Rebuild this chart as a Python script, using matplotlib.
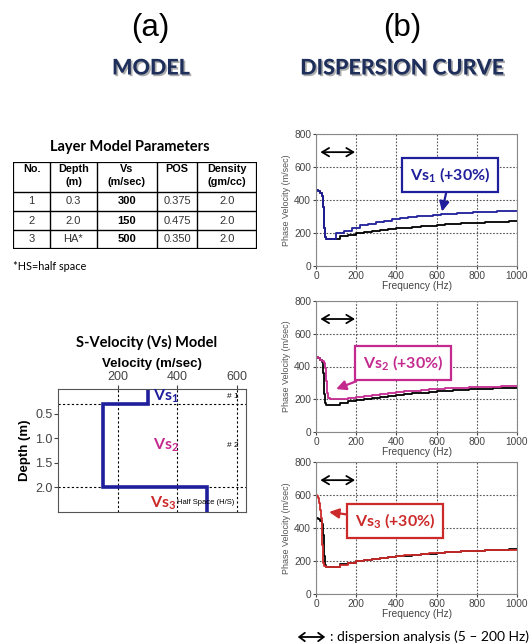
"""
Layer model (a) and dispersion curves (b) for a 3-layer Vs model
"""

import matplotlib.pyplot as plt
import matplotlib.patheffects as pe
from matplotlib.patches import FancyArrowPatch

# ── Fonts ──────────────────────────────────────────────────────────────────────
plt.rcParams['font.family'] = ['Liberation Sans', 'DejaVu Sans']
plt.rcParams['mathtext.fontset'] = 'custom'
plt.rcParams['mathtext.rm'] = 'Lato'
plt.rcParams['mathtext.bf'] = 'Lato:bold'
plt.rcParams['mathtext.it'] = 'Lato:italic'
CAL = ['Lato', 'DejaVu Sans']

# ── Data: layer model table ────────────────────────────────────────────────────
table_header = ["No.", "Depth\n(m)", "Vs\n(m/sec)", "POS", "Density\n(gm/cc)"]
layer_no = ["1", "2", "3"]
layer_depth = ["0.3", "2.0", "HA*"]
layer_vs = [300, 150, 500]
layer_pos = ["0.375", "0.475", "0.350"]
layer_density = ["2.0", "2.0", "2.0"]

# Vs profile: layer top/bottom depths (m)
layer_top = [0.0, 0.3, 2.0]
layer_bottom = [0.3, 2.0, 2.5]

# ── Data: dispersion curves (Hz, m/sec) ────────────────────────────────────────
base_freq = [0, 10, 20, 30, 35, 40, 45, 50, 110, 120, 160, 200, 240, 280, 320, 360,
             400, 440, 480, 520, 560, 600, 640, 680, 720, 760, 800, 840, 880, 920,
             960, 1000]
base_vel = [460, 452, 440, 425, 360, 230, 175, 165, 165, 180, 188, 197, 204, 210, 216,
            222, 228, 233, 237, 241, 245, 249, 252, 255, 258, 260, 262, 264, 266, 268,
            270, 270]

vs1_freq = [0, 10, 20, 30, 35, 40, 45, 50, 100, 140, 180, 220, 260, 300, 340, 380,
            420, 460, 500, 540, 580, 620, 660, 700, 740, 780, 820, 860, 900, 940,
            980, 1000]
vs1_vel = [460, 452, 440, 425, 360, 230, 175, 165, 197, 215, 233, 246, 257, 266, 275,
           283, 289, 295, 300, 305, 310, 314, 317, 320, 323, 325, 327, 329, 331, 332,
           333, 333]

vs2_freq = [0, 10, 20, 30, 40, 45, 50, 55, 60, 70, 120, 160, 200, 240, 280, 320, 360,
            400, 440, 480, 520, 560, 600, 640, 680, 720, 760, 800, 840, 880, 920,
            960, 1000]
vs2_vel = [460, 452, 442, 432, 420, 390, 310, 240, 210, 203, 203, 208, 214, 221, 228,
           234, 240, 245, 249, 253, 257, 260, 263, 266, 268, 270, 272, 274, 276, 277,
           279, 280, 281]

vs3_freq = [0, 5, 10, 15, 20, 25, 28, 32, 36, 40, 50, 115, 120, 160, 200, 240, 280,
            320, 360, 400, 440, 480, 520, 560, 600, 640, 680, 720, 760, 800, 840,
            880, 920, 960, 1000]
vs3_vel = [600, 595, 580, 550, 510, 460, 410, 300, 190, 168, 163, 163, 178, 188, 200,
           207, 213, 219, 224, 229, 234, 238, 242, 246, 249, 252, 255, 258, 260, 262,
           264, 266, 267, 268, 268]

# ── Colours ────────────────────────────────────────────────────────────────────
NAVY = "#1f1f9c"
MAGENTA = "#c42a8e"
RED = "#cc2a2a"
TITLE = "#1f2f5c"
GRAYTXT = "#444444"

W, H = 530, 643
fig = plt.figure(figsize=(W / 100, H / 100), dpi=100, facecolor="white")


def px_axes(l, t, r, b):
    return fig.add_axes([l / W, 1 - b / H, (r - l) / W, (b - t) / H])


def fx(x):
    return x / W


def fy(y):
    return 1 - y / H


# ── Headings ───────────────────────────────────────────────────────────────────
fig.text(fx(150), fy(28), "(a)", fontsize=22.5, ha="center", va="center")
fig.text(fx(402), fy(28), "(b)", fontsize=22.5, ha="center", va="center")
shadow = [pe.SimplePatchShadow(offset=(1.2, -1.2), shadow_rgbFace="#777777", alpha=0.6),
          pe.Normal()]
fig.text(fx(151), fy(68), "MODEL", fontsize=15.5, fontweight="black", family=CAL,
         color=TITLE, ha="center", va="center", path_effects=shadow)
fig.text(fx(402), fy(68), "DISPERSION CURVE", fontsize=15.5, fontweight="black",
         family=CAL, color=TITLE, ha="center", va="center", path_effects=shadow)

# ── Table ──────────────────────────────────────────────────────────────────────
fig.text(fx(130), fy(147), "Layer Model Parameters", fontsize=10.5, fontweight="bold",
         family=CAL, ha="center", va="center")

ax_tab = px_axes(13, 162, 257, 249)
ax_tab.set_xlim(0, 1)
ax_tab.set_ylim(1, 0)
ax_tab.axis("off")
col_w = [37, 47, 60, 40, 60]
row_h = [30, 19, 19, 19]
col_edges = [sum(col_w[:i]) / sum(col_w) for i in range(len(col_w) + 1)]
row_edges = [sum(row_h[:i]) / sum(row_h) for i in range(len(row_h) + 1)]
for xe in col_edges[1:-1]:
    ax_tab.plot([xe, xe], [0, 1], color="black", lw=1.0)
for ye in row_edges[1:-1]:
    ax_tab.plot([0, 1], [ye, ye], color="black", lw=1.0)
ax_tab.add_patch(plt.Rectangle((0, 0), 1, 1, fill=False, lw=1.6, ec="black"))

for j, lab in enumerate(table_header):
    cx = (col_edges[j] + col_edges[j + 1]) / 2
    ax_tab.text(cx, row_edges[0] + 0.025, lab, ha="center", va="top", fontsize=7.8,
                fontweight="bold", linespacing=1.3)

rows = list(zip(layer_no, layer_depth, [str(v) for v in layer_vs], layer_pos,
                layer_density))
for i, row in enumerate(rows):
    cy = (row_edges[i + 1] + row_edges[i + 2]) / 2
    for j, val in enumerate(row):
        cx = (col_edges[j] + col_edges[j + 1]) / 2
        ax_tab.text(cx, cy, val, ha="center", va="center", fontsize=8,
                    color="black" if j == 2 else "#333333",
                    fontweight="bold" if j == 2 else "normal")

fig.text(fx(13), fy(267), "*HS=half space", fontsize=7.8, family=CAL, va="center")

# ── Vs model ───────────────────────────────────────────────────────────────────
fig.text(fx(147), fy(342), "S-Velocity (Vs) Model", fontsize=10.5, fontweight="bold",
         family=CAL, ha="center", va="center")

ax_vs = px_axes(58, 389, 246, 512)
prof_x, prof_y = [], []
for v, t, b in zip(layer_vs, layer_top, layer_bottom):
    prof_x += [v, v]
    prof_y += [t, b]
ax_vs.plot(prof_x, prof_y, color=NAVY, lw=2.6, solid_joinstyle="miter")
ax_vs.set_xlim(0, 630)
ax_vs.set_ylim(2.5, 0)
ax_vs.set_xticks([200, 400, 600])
ax_vs.set_yticks([0.5, 1.0, 1.5, 2.0])
ax_vs.xaxis.tick_top()
ax_vs.xaxis.set_label_position("top")
ax_vs.tick_params(colors=GRAYTXT, labelsize=9, length=3, pad=1)
ax_vs.set_xlabel("Velocity (m/sec)", fontsize=9.5, fontweight="bold", labelpad=3)
ax_vs.set_ylabel("Depth (m)", fontsize=9.5, fontweight="bold", labelpad=3)
for s in ax_vs.spines.values():
    s.set_color("#555555")
for xv in [200, 400, 600]:
    ax_vs.axvline(xv, color="black", lw=0.8, ls=(0, (2, 2)), zorder=0)
for yv in layer_bottom[:2]:
    ax_vs.axhline(yv, color="black", lw=0.8, ls=(0, (2, 2)), zorder=0)

ax_vs.text(318, 0.15, r"Vs$_\mathbf{1}$", color=NAVY, fontsize=11.5, fontweight="bold",
           family=CAL, va="center")
ax_vs.text(318, 1.15, r"Vs$_\mathbf{2}$", color=MAGENTA, fontsize=11.5,
           fontweight="bold", family=CAL, va="center")
ax_vs.text(308, 2.32, r"Vs$_\mathbf{3}$", color=RED, fontsize=11.5, fontweight="bold",
           family=CAL, va="center")
ax_vs.text(565, 0.15, "# 1", fontsize=6, va="center")
ax_vs.text(565, 1.15, "# 2", fontsize=6, va="center")
ax_vs.text(400, 2.3, "Half Space (H/S)", fontsize=5.5, va="center")

# ── Dispersion curves ──────────────────────────────────────────────────────────
panels = [
    (134, 266, vs1_freq, vs1_vel, NAVY, r"Vs$_\mathbf{1}$ (+30%)", (667, 552), (627, 330)),
    (301, 432, vs2_freq, vs2_vel, MAGENTA, r"Vs$_\mathbf{2}$ (+30%)", (433, 421), (100, 262)),
    (462, 594, vs3_freq, vs3_vel, RED, r"Vs$_\mathbf{3}$ (+30%)", (393, 442), (65, 497)),
]
for top, bot, fr, ve, col, lab, box_xy, tip_xy in panels:
    ax = px_axes(316, top, 517, bot)
    ax.plot(base_freq, base_vel, color="black", lw=1.3, drawstyle="steps-post")
    ax.plot(fr, ve, color=col, lw=1.3, drawstyle="steps-post")
    ax.set_xlim(0, 1000)
    ax.set_ylim(0, 800)
    ax.set_xticks(range(0, 1001, 200))
    ax.set_yticks(range(0, 801, 200))
    ax.grid(True, color="#555555", lw=0.8, ls=(0, (1.5, 1.5)))
    ax.tick_params(colors=GRAYTXT, labelsize=7.3, length=2.5, pad=1)
    for s in ax.spines.values():
        s.set_color("#888888")
    ax.set_xlabel("Frequency (Hz)", fontsize=7.3, color=GRAYTXT, labelpad=0)
    ax.set_ylabel("Phase Velocity (m/sec)", fontsize=6.5, color="#555555", labelpad=2)
    ax.annotate("", xy=(8, 690), xytext=(208, 690),
                arrowprops=dict(arrowstyle="<->,head_length=0.5,head_width=0.3",
                                color="black", lw=1.3))
    ax.annotate(lab, xy=tip_xy, xytext=box_xy, ha="center", va="center",
                fontsize=11.5, fontweight="bold", family=CAL, color=col,
                bbox=dict(boxstyle="square,pad=0.5", fc="white", ec=col, lw=1.6),
                arrowprops=dict(arrowstyle="-|>,head_length=0.5,head_width=0.25",
                                color=col, lw=1.6, shrinkA=0, shrinkB=0))

# ── Bottom note ────────────────────────────────────────────────────────────────
fig.patches.append(FancyArrowPatch(
    (fx(295), fy(637)), (fx(328), fy(637)), transform=fig.transFigure,
    arrowstyle="<->,head_length=4,head_width=3", color="black", lw=1.3))
fig.text(fx(330), fy(637), ": dispersion analysis (5 \u2013 200 Hz)", fontsize=10,
         family=CAL, va="center")

fig.savefig("out.png", dpi=100, facecolor="white")
